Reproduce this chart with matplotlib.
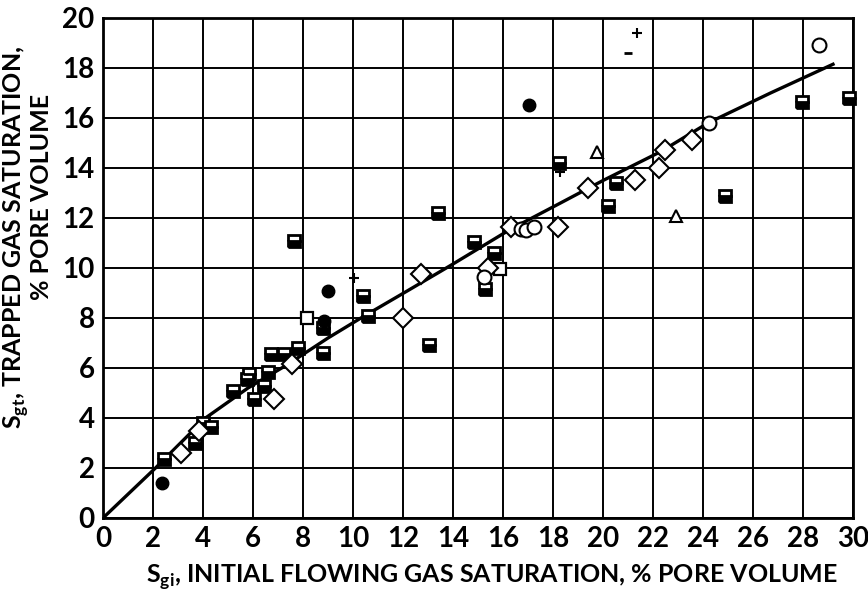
import matplotlib
matplotlib.use("Agg")
import matplotlib.pyplot as plt

# ---------------- data ----------------
half_sq_x = [2.45, 3.68, 4.01, 4.31, 5.21, 5.75, 5.84, 6.04, 6.45, 6.59, 6.72, 7.25, 7.79,
             7.65, 8.79, 8.81, 10.41, 10.61, 13.05, 13.41, 14.85, 15.65, 15.28, 18.24,
             20.19, 20.51, 24.88, 27.97, 29.85]
half_sq_y = [2.35, 2.99, 3.79, 3.65, 5.07, 5.55, 5.76, 4.76, 5.28, 5.85, 6.55, 6.55, 6.79,
             11.08, 7.59, 6.61, 8.88, 8.09, 6.92, 12.21, 11.03, 10.61, 9.15, 14.19,
             12.49, 13.41, 12.88, 16.65, 16.79]

open_sq_x = [8.17, 15.88]
open_sq_y = [8.01, 9.96]

diamond_x = [3.12, 3.84, 6.85, 7.57, 12.0, 12.72, 15.39, 16.32, 18.21, 19.41, 21.28, 22.25, 22.48, 23.55]
diamond_y = [2.59, 3.49, 4.76, 6.17, 8.0, 9.75, 10.0, 11.65, 11.65, 13.21, 13.52, 13.99, 14.72, 15.12]

filled_circ_x = [2.35, 8.84, 9.01, 17.05]
filled_circ_y = [1.39, 7.89, 9.08, 16.52]

open_circ_x = [15.25, 16.72, 16.91, 17.24, 24.24, 28.64]
open_circ_y = [9.65, 11.57, 11.52, 11.65, 15.81, 18.93]

triangle_x = [19.75, 22.91]
triangle_y = [14.63, 12.09]

plus_x = [10.04, 21.37, 18.28]
plus_y = [9.61, 19.39, 13.85]

minus_x = [20.99]
minus_y = [18.61]

curve_x = [0.0, 2.1, 4.1, 5.8, 7.4, 9.0, 10.4, 12.2, 13.9, 16.3, 18.3, 20.0, 22.3, 24.2, 26.7, 29.2]
curve_y = [0.0, 2.0, 4.0, 5.2, 6.15, 7.2, 8.05, 9.1, 10.1, 11.55, 12.6, 13.5, 14.65, 15.8, 17.0, 18.15]

x_ticks = list(range(0, 31, 2))
y_ticks = list(range(0, 21, 2))

# ---------------- plot ----------------
plt.rcParams['font.family'] = ['Lato', 'DejaVu Sans']
plt.rcParams['font.weight'] = 'bold'

fig = plt.figure(figsize=(8.68, 5.91), dpi=100)
ax = fig.add_axes([103 / 868, 1 - 518 / 591, 750 / 868, 500 / 591])

ax.set_xlim(0, 30)
ax.set_ylim(0, 20)
ax.set_xticks(x_ticks)
ax.set_yticks(y_ticks)
ax.set_xticklabels([str(v) for v in x_ticks])
ax.set_yticklabels([str(v) for v in y_ticks])
ax.grid(True, color='black', linewidth=1.4)
ax.set_axisbelow(True)
for s in ax.spines.values():
    s.set_linewidth(2.0)
    s.set_color('black')
ax.tick_params(length=0, labelsize=20, pad=6, colors='black')

ax.plot(curve_x, curve_y, color='black', linewidth=2.4, zorder=3)

kw = dict(linestyle='none', markeredgecolor='black', zorder=4, clip_on=False)
ax.plot(half_sq_x, half_sq_y, marker='s', markersize=9, fillstyle='bottom',
        markerfacecolor='black', markerfacecoloralt='white', markeredgewidth=2.0, **kw)
ax.plot(open_sq_x, open_sq_y, marker='s', markersize=9, markerfacecolor='white',
        markeredgewidth=1.6, **kw)
ax.plot(diamond_x, diamond_y, marker='D', markersize=10, markerfacecolor='white',
        markeredgewidth=1.5, **kw)
ax.plot(filled_circ_x, filled_circ_y, marker='o', markersize=9, markerfacecolor='black',
        markeredgewidth=1.0, **kw)
ax.plot(open_circ_x, open_circ_y, marker='o', markersize=10, markerfacecolor='white',
        markeredgewidth=1.5, **kw)
ax.plot(triangle_x, triangle_y, marker='^', markersize=9, markerfacecolor='white',
        markeredgewidth=1.5, **kw)
ax.plot(plus_x, plus_y, marker='+', markersize=7, markeredgewidth=1.5, **kw)
ax.plot(minus_x, minus_y, marker='_', markersize=6, markeredgewidth=2.0, **kw)

fig.text(492 / 868, 1 - 577 / 591, r'S$_{\mathregular{gi}}$, INITIAL FLOWING GAS SATURATION, % PORE VOLUME',
         ha='center', va='center', fontsize=18, color='black')
fig.text(16 / 868, 1 - 237 / 591, r'S$_{\mathregular{gt}}$, TRAPPED GAS SATURATION,',
         ha='center', va='center', rotation=90, fontsize=18, color='black')
fig.text(42 / 868, 1 - 197 / 591, '% PORE VOLUME',
         ha='center', va='center', rotation=90, fontsize=18, color='black')

fig.savefig('out.png', dpi=100, facecolor='white')
